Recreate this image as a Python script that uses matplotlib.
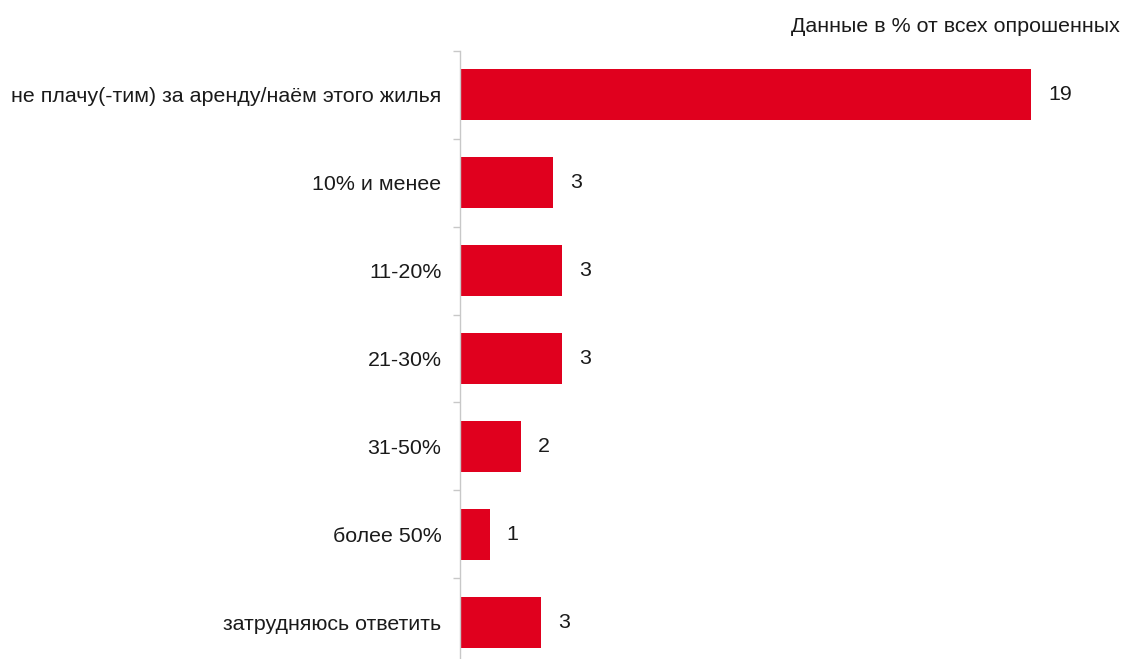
import matplotlib
matplotlib.use("Agg")
import matplotlib.pyplot as plt
import numpy as np

plt.rcParams['font.family'] = ['Liberation Sans', 'DejaVu Sans']

categories = ["не плачу(-тим) за аренду/наём этого жилья", "10% и менее", "11-20%",
              "21-30%", "31-50%", "более 50%", "затрудняюсь ответить"]
values = [19.0, 3.1, 3.4, 3.4, 2.05, 1.0, 2.7]
labels = ["19", "3", "3", "3", "2", "1", "3"]

FS = 15.4
fig = plt.figure(figsize=(11.25, 6.59), dpi=100)
ax = fig.add_axes([459.5/1125, -7/659, 602/1125, 615/659])

y = np.arange(len(categories))
ax.barh(y, values, height=0.58, color='#E0001E', zorder=2)
ax.set_xlim(0, 20)
ax.set_ylim(len(categories) - 0.5, -0.5)

for yi, v, lab in zip(y, values, labels):
    ax.text(v + 17 * 20 / 602, yi, lab, va='center', ha='left', fontsize=FS, color='#1a1a1a')

ax.set_yticks(y)
ax.set_yticklabels(categories, fontsize=FS, color='#1a1a1a')
ax.tick_params(axis='y', which='major', length=0, pad=13)
ax.set_yticks(np.arange(len(categories) + 1) - 0.5, minor=True)
ax.tick_params(axis='y', which='minor', length=5, color='#c8c8c8', width=1)
ax.set_xticks([])

for s in ['top', 'right', 'bottom']:
    ax.spines[s].set_visible(False)
ax.spines['left'].set_color('#c8c8c8')
ax.spines['left'].set_linewidth(1)

fig.text(1120/1125, 1 - 26/659, "Данные в % от всех опрошенных", ha='right', va='center',
         fontsize=FS, color='#1a1a1a')

fig.savefig("out.png", dpi=100)
